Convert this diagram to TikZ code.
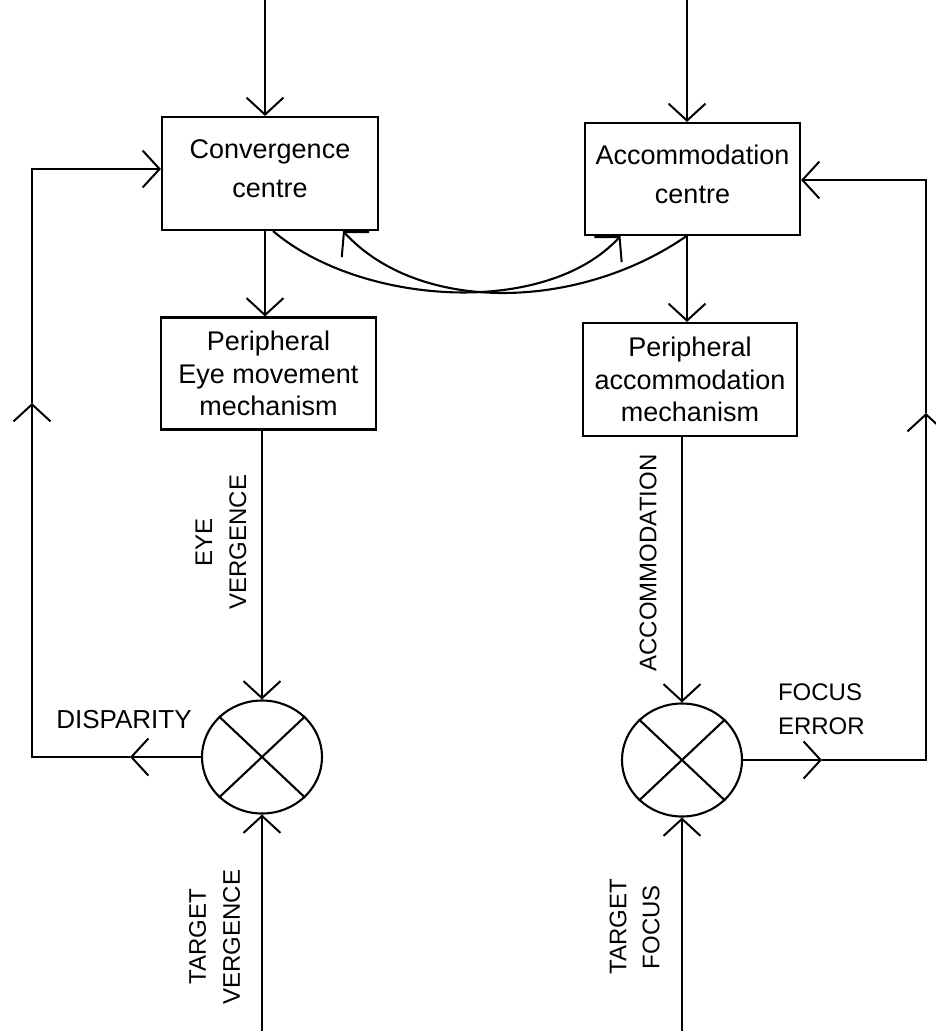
\documentclass[tikz,border=0pt]{standalone}
\usepackage{fontspec}
\setmainfont{Liberation Sans}
\usetikzlibrary{arrows.meta,shapes.geometric}
\begin{document}
\begin{tikzpicture}[x=1pt,y=-1pt,
  line width=2.1pt,
  arr/.style={-{Straight Barb[length=17pt,width=37pt,line width=2pt]}},
  blk/.style={draw, line width=2.1pt, inner sep=0pt, align=center,
    font=\fontsize{27}{32.5}\selectfont},
  topblk/.style={blk, minimum width=216pt, minimum height=113pt,
    font=\fontsize{27}{39}\selectfont, text depth=9pt},
  lowblk/.style={blk, minimum width=215pt, minimum height=112pt},
  mult/.style={draw, ellipse, minimum width=120pt, minimum height=113pt, inner sep=0pt},
  lbl/.style={font=\fontsize{24}{34}\selectfont, inner sep=0pt},
  vlbl/.style={lbl, rotate=90, align=center}]
\useasboundingbox (0,0) rectangle (936,1031);

% control blocks
\node[topblk] (conv) at (270,173.5) {Convergence\\centre};
\node[topblk, minimum width=215pt, minimum height=112pt] (acc) at (692.5,179) {Accommodation\\centre};
\node[lowblk] (eye) at (268.5,373.5) {Peripheral\\Eye movement\\mechanism};
\node[lowblk, minimum width=214pt, minimum height=113pt] (pacc) at (690,379.5) {Peripheral\\accommodation\\mechanism};

% comparators
\node[mult] (lc) at (262,757) {};
\node[mult] (rc) at (682,760) {};
\draw (lc.north west) -- (lc.south east) (lc.north east) -- (lc.south west);
\draw (rc.north west) -- (rc.south east) (rc.north east) -- (rc.south west);

% free ends and corners
\coordinate (inL) at (265,0);
\coordinate (inR) at (687,0);
\coordinate (tgL) at (262,1031);
\coordinate (tgR) at (682,1031);
\coordinate (dispA) at (130,757);
\coordinate (dispC) at (32,757);
\coordinate (dispU) at (32,403);
\coordinate (dispT) at (32,169);
\coordinate (focA) at (822,760);
\coordinate (focC) at (926,760);
\coordinate (focU) at (926,413);
\coordinate (focT) at (926,180);

% forward paths
\draw[arr] (inL) -- (inL |- conv.north);
\draw[arr] (inR) -- (inR |- acc.north);
\draw[arr] (conv.south -| inL) -- (eye.north -| inL);
\draw[arr] (acc.south -| inR) -- (pacc.north -| inR);
\draw[arr] (eye.south -| lc) -- (lc.north);
\draw[arr] (pacc.south -| rc) -- (rc.north);
\draw[arr] (tgL) -- (lc.south);
\draw[arr] (tgR) -- (rc.south);

% feedback loops
\draw[arr] (lc.west) -- (dispA);
\draw[arr] (dispA) -- (dispC) -- (dispU);
\draw[arr] (dispU) -- (dispT) -- (conv.west |- dispT);
\draw[arr] (rc.east) -- (focA);
\draw[arr] (focA) -- (focC) -- (focU);
\draw[arr] (focU) -- (focT) -- (acc.east |- focT);

% cross links between the centres
\draw[arr] ([xshift=3pt]conv.south) .. controls (360,305) and (545,318) .. ([xshift=-72pt]acc.south);
\draw[arr] ([xshift=-6pt]acc.south) .. controls (580,310) and (420,315) .. ([xshift=73pt]conv.south);

% signal labels
\node[lbl, font=\fontsize{26}{34}\selectfont] (disp) at (124,720) {DISPARITY};
\node[lbl, anchor=west, align=left] (ferr) at (777,709) {FOCUS\\ERROR};
\node[vlbl] (eyev) at (221,542) {EYE\\VERGENCE};
\node[vlbl] (accl) at (648,563) {ACCOMMODATION};
\node[vlbl] (tv) at (214.5,937) {TARGET\\VERGENCE};
\node[vlbl, font=\fontsize{24}{33}\selectfont] (tf) at (634.5,927) {TARGET\\FOCUS};
\end{tikzpicture}
\end{document}
